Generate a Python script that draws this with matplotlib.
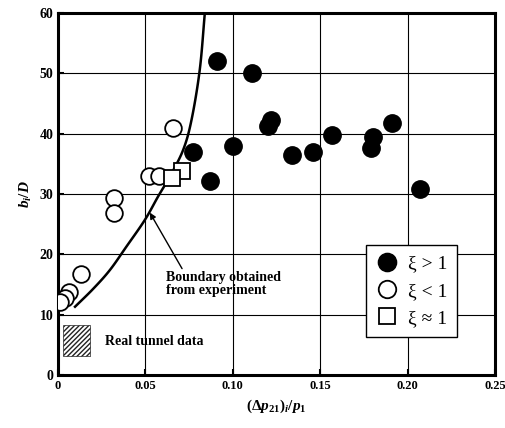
import numpy as np
import matplotlib
matplotlib.use('Agg')
import matplotlib.pyplot as plt
from matplotlib.patches import Rectangle

# data
fill_x = [0.091, 0.111, 0.077, 0.100, 0.087, 0.122, 0.120, 0.134, 0.146, 0.157, 0.180, 0.179, 0.191, 0.207]
fill_y = [52.0, 50.0, 37.0, 38.0, 32.2, 42.3, 41.3, 36.5, 37.0, 39.8, 39.5, 37.6, 41.8, 30.8]

open_x = [0.066, 0.052, 0.058, 0.032, 0.032, 0.013, 0.006, 0.004, 0.001]
open_y = [41.0, 33.0, 33.0, 29.3, 26.8, 16.8, 13.8, 12.8, 12.1]

sq_x = [0.071, 0.065]
sq_y = [33.8, 32.6]

bound_x = [0.0097, 0.0202, 0.0297, 0.0392, 0.0497, 0.0573, 0.0640, 0.0716, 0.0764, 0.0811, 0.0840]
bound_y = [11.3, 14.3, 17.4, 21.3, 25.7, 29.6, 32.9, 37.3, 42.3, 50.6, 60.0]

xticks = [0, 0.05, 0.10, 0.15, 0.20, 0.25]
xticklabels = ['0', '0.05', '0.10', '0.15', '0.20', '0.25']
yticks = [0, 10, 20, 30, 40, 50, 60]


def smooth(px, py, n=12):
    # catmull-rom just for drawing a smooth line through the read points
    p = np.column_stack([px, py]).astype(float)
    p = np.vstack([2 * p[0] - p[1], p, 2 * p[-1] - p[-2]])
    out = []
    t = np.linspace(0, 1, n, endpoint=False)[:, None]
    for i in range(1, len(p) - 2):
        p0, p1, p2, p3 = p[i - 1], p[i], p[i + 1], p[i + 2]
        seg = 0.5 * (2 * p1 + (-p0 + p2) * t + (2 * p0 - 5 * p1 + 4 * p2 - p3) * t ** 2
                     + (-p0 + 3 * p1 - 3 * p2 + p3) * t ** 3)
        out.append(seg)
    out.append(p[-2][None, :])
    out = np.vstack(out)
    return out[:, 0], out[:, 1]


plt.rcParams['font.family'] = 'Liberation Serif'
plt.rcParams['font.weight'] = 'bold'
plt.rcParams['mathtext.fontset'] = 'custom'
plt.rcParams['mathtext.it'] = 'Liberation Serif:italic:bold'
plt.rcParams['mathtext.rm'] = 'Liberation Serif:bold'
plt.rcParams['hatch.linewidth'] = 1.0

fig = plt.figure(figsize=(5.05, 4.28), dpi=100)
ax = fig.add_axes([0.115, 0.124, 0.865, 0.846])

ax.grid(True, color='black', linewidth=0.8)
ax.set_axisbelow(True)

# boundary curve from experiment
cx, cy = smooth(bound_x, bound_y)
ax.plot(cx, cy, color='black', lw=1.8, zorder=2)

ax.plot(fill_x, fill_y, 'o', ms=12.5, mfc='black', mec='black', zorder=3, label='ξ > 1')
ax.plot(open_x, open_y, 'o', ms=12, mfc='white', mec='black', mew=1.3, zorder=3, label='ξ < 1')
ax.plot(sq_x, sq_y, 's', ms=11, mfc='white', mec='black', mew=1.3, zorder=3, label='ξ ≈ 1')

ax.annotate('Boundary obtained\nfrom experiment', xy=(0.0525, 26.9), xytext=(0.062, 15.0),
            fontsize=10, fontweight='bold', va='center', ha='left', linespacing=1.0,
            arrowprops=dict(arrowstyle='-|>', color='black', lw=1.0, mutation_scale=9,
                            shrinkA=0, shrinkB=0, relpos=(0.15, 1.0)))

ax.add_patch(Rectangle((0.003, 3.2), 0.0155, 5.1, facecolor='white', edgecolor='#222222',
                       hatch='///////', lw=0.5, zorder=2))
ax.text(0.027, 5.6, 'Real tunnel data', fontsize=10, fontweight='bold', va='center', ha='left')

leg = ax.legend(loc='lower left', bbox_to_anchor=(0.704, 0.105), borderaxespad=0,
                frameon=True, fancybox=False, edgecolor='black', framealpha=1,
                handletextpad=0.5, borderpad=0.5, labelspacing=0.5, handlelength=1.2,
                markerscale=1.05,
                prop={'family': 'Liberation Serif', 'weight': 'normal', 'size': 14})
leg.get_frame().set_linewidth(1.0)

ax.set_xlim(0, 0.25)
ax.set_ylim(0, 60)
ax.set_xticks(xticks)
ax.set_xticklabels(xticklabels)
ax.set_yticks(yticks)
ax.tick_params(direction='in', length=4, width=1.5, labelsize=9)
ax.tick_params(axis='y', labelsize=10)
for lab in ax.get_xticklabels() + ax.get_yticklabels():
    lab.set_fontweight('bold')
for s in ax.spines.values():
    s.set_linewidth(2.2)

ax.set_xlabel(r'$(\Delta p_{21})_i/p_1$', fontsize=11, labelpad=4)
ax.set_ylabel(r'$b_i/D$', fontsize=11, labelpad=4)

fig.savefig('out.png', dpi=100)
